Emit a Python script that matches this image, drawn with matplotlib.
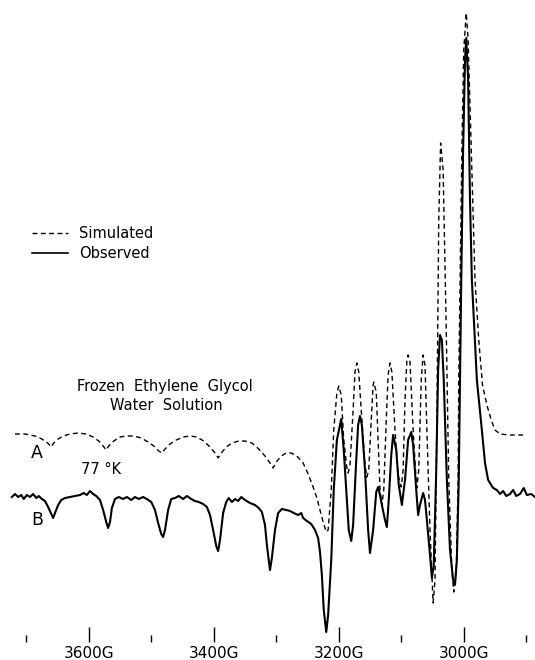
"""
ESR spectrum: simulated vs observed, frozen ethylene glycol / water solution
"""
import matplotlib
matplotlib.use("Agg")
import matplotlib.pyplot as plt
from matplotlib.lines import Line2D

# ==================== data ====================
# magnetic field (G) and intensity (arb. units)
OBS_FIELD = [3723, 3718, 3713, 3708, 3704, 3699, 3694, 3689, 3684, 3680, 3675, 3670,
             3665, 3660, 3657, 3654, 3649, 3644, 3638, 3630, 3622, 3614, 3608, 3603,
             3598, 3593, 3588, 3582, 3577, 3572, 3569, 3566, 3563, 3558, 3552, 3545,
             3539, 3532, 3526, 3520, 3513, 3507, 3500, 3494, 3489, 3484, 3481, 3478,
             3473, 3468, 3462, 3456, 3449, 3443, 3436, 3430, 3424, 3417, 3411, 3406,
             3401, 3396, 3393, 3390, 3385, 3380, 3376, 3371, 3366, 3361, 3356, 3350,
             3342, 3334, 3328, 3323, 3318, 3315, 3310, 3307, 3302, 3297, 3291, 3284,
             3278, 3272, 3265, 3260, 3257, 3251, 3244, 3238, 3233, 3230, 3227, 3224,
             3220, 3217, 3212, 3208, 3203, 3196, 3192, 3187, 3184, 3180, 3177, 3172,
             3169, 3166, 3163, 3158, 3153, 3150, 3145, 3140, 3137, 3134, 3131, 3126,
             3123, 3120, 3116, 3113, 3108, 3104, 3099, 3094, 3089, 3084, 3081, 3076,
             3073, 3070, 3065, 3062, 3059, 3054, 3051, 3048, 3044, 3041, 3038, 3035,
             3032, 3027, 3022, 3017, 3014, 3011, 3008, 3006, 3004, 3001, 2998, 2996,
             2993, 2990, 2987, 2979, 2971, 2966, 2961, 2953, 2947, 2942, 2937, 2932,
             2926, 2921, 2916, 2910, 2904, 2899, 2892, 2886]
OBS_SIGNAL = [-2, 1, -2, 0, -4, 0, -2, 1, -3, -1, -4, -6,
              -12, -19, -23, -18, -10, -5, -3, -2, -1, 0, 2, 0,
              4, 1, -1, -5, -15, -27, -33, -27, -13, -4, -2, -4,
              -2, -5, -2, -4, -2, -4, -7, -15, -28, -39, -42, -35,
              -15, -4, -3, -1, -4, -1, -4, -6, -7, -9, -12, -20,
              -35, -51, -56, -45, -18, -7, -3, -7, -4, -6, -2, -5,
              -8, -10, -13, -17, -30, -50, -75, -63, -35, -18, -14, -15,
              -16, -18, -20, -18, -23, -26, -29, -35, -43, -57, -80, -115,
              -137, -120, -65, 5, 55, 76, 45, -5, -35, -46, -30, 35,
              70, 79, 70, 25, -35, -58, -35, 3, 8, 0, -10, -25,
              -32, -5, 40, 60, 45, 10, -10, 15, 55, 63, 50, 5,
              -20, -10, 2, -5, -25, -60, -83, -70, 25, 125, 160, 155,
              115, 15, -55, -85, -90, -65, 15, 115, 215, 345, 435, 457,
              415, 295, 215, 115, 65, 32, 15, 7, 5, 1, 4, -1,
              1, 5, -1, 1, 7, 0, 1, -2]

SIM_FIELD = [3718, 3710, 3702, 3694, 3686, 3678, 3670, 3664, 3660, 3656, 3649, 3641,
             3630, 3617, 3604, 3593, 3584, 3577, 3572, 3568, 3560, 3550, 3539, 3528,
             3516, 3505, 3496, 3488, 3483, 3478, 3470, 3460, 3449, 3438, 3427, 3416,
             3406, 3398, 3393, 3388, 3380, 3371, 3360, 3350, 3339, 3328, 3318, 3310,
             3305, 3300, 3292, 3284, 3276, 3267, 3257, 3249, 3241, 3235, 3230, 3225,
             3220, 3217, 3212, 3208, 3203, 3200, 3196, 3192, 3187, 3185, 3182, 3177,
             3174, 3171, 3168, 3163, 3158, 3155, 3152, 3148, 3145, 3144, 3140, 3137,
             3134, 3131, 3128, 3124, 3121, 3118, 3115, 3110, 3105, 3100, 3097, 3094,
             3091, 3089, 3086, 3081, 3076, 3075, 3072, 3068, 3065, 3062, 3059, 3054,
             3049, 3046, 3043, 3040, 3037, 3033, 3028, 3024, 3019, 3016, 3012, 3009,
             3008, 3006, 3003, 3000, 2996, 2993, 2988, 2982, 2976, 2970, 2963, 2956,
             2950, 2942, 2926, 2902]
SIM_SIGNAL = [1, 1, 1, 0, -1, -3, -6, -9, -12, -8, -4, -1,
              1, 2, 1, -2, -6, -11, -15, -11, -6, -2, -1, -1,
              -3, -7, -11, -16, -18, -14, -9, -5, -2, -1, -2, -6,
              -12, -18, -23, -18, -12, -8, -6, -6, -8, -14, -21, -28,
              -33, -27, -21, -18, -18, -21, -28, -39, -52, -63, -75, -87,
              -97, -95, -55, 5, 42, 49, 40, -5, -33, -38, -30, 25,
              63, 72, 63, 15, -30, -42, -35, 15, 50, 53, 43, -5,
              -55, -70, -55, 15, 60, 72, 63, 5, -40, -52, -35, 35,
              75, 80, 73, 5, -47, -53, -35, 55, 80, 70, 5, -95,
              -168, -145, 15, 215, 292, 265, 105, -45, -135, -157, -135, -45,
              55, 145, 285, 385, 422, 395, 285, 155, 95, 50, 30, 15,
              5, 1, 0, 0]
SIM_OFFSET = 60  # simulated trace is drawn above the observed one

MAJOR_TICKS = [3600, 3400, 3200, 3000]
MAJOR_LABELS = ["3600G", "3400G", "3200G", "3000G"]
MINOR_TICKS = [3700, 3500, 3300, 3100, 2900]


def main():
    W, H = 535, 660
    fig = plt.figure(figsize=(W / 100, H / 100), dpi=100)
    ax = fig.add_axes([0, 18 / H, 1, 642 / H])

    sim = [v + SIM_OFFSET for v in SIM_SIGNAL]
    ax.plot(SIM_FIELD, sim, color="black", lw=1.0, dashes=(3.5, 2.5))
    ax.plot(OBS_FIELD, OBS_SIGNAL, color="black", lw=1.5, solid_joinstyle="round")

    ax.set_xlim(3742, 2886)
    ax.set_ylim(-147, 495)
    for s in ax.spines.values():
        s.set_visible(False)
    ax.set_yticks([])
    ax.set_xticks(MAJOR_TICKS)
    ax.set_xticklabels(MAJOR_LABELS)
    ax.set_xticks(MINOR_TICKS, minor=True)
    ax.tick_params(axis="x", which="major", direction="in", length=11, width=1.0,
                   pad=3, labelsize=11)
    ax.tick_params(axis="x", which="minor", direction="in", length=5, width=1.0)

    # legend, drawn by hand
    def fx(px):
        return px / W

    def fy(py):
        return 1 - py / H

    fig.add_artist(Line2D([fx(32), fx(68)], [fy(233), fy(233)], color="black",
                          lw=1.0, dashes=(3.5, 2.5)))
    fig.add_artist(Line2D([fx(32), fx(68)], [fy(253), fy(253)], color="black", lw=1.2))
    fig.text(fx(79), fy(233), "Simulated", fontsize=10.5, va="center", ha="left")
    fig.text(fx(79), fy(253), "Observed", fontsize=10.5, va="center", ha="left")

    fig.text(fx(165), fy(386), "Frozen  Ethylene  Glycol", fontsize=10.5,
             va="center", ha="center")
    fig.text(fx(166), fy(406), "Water  Solution", fontsize=10.5, va="center", ha="center")
    fig.text(fx(37), fy(453), "A", fontsize=12.5, va="center", ha="center")
    fig.text(fx(101), fy(470), "77 °K", fontsize=10.5, va="center", ha="center")
    fig.text(fx(37), fy(520), "B", fontsize=12.5, va="center", ha="center")

    fig.savefig("out.png", dpi=100)


if __name__ == "__main__":
    main()
